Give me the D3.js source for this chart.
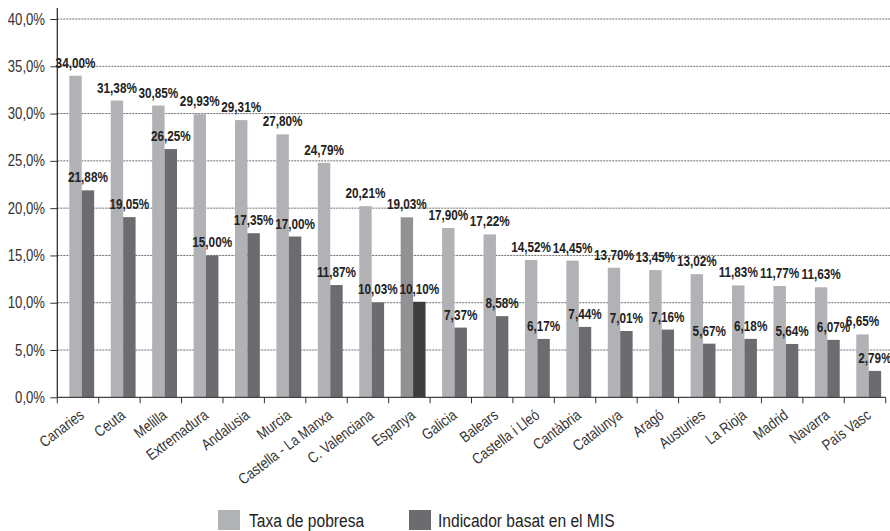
<!DOCTYPE html>
<html><head><meta charset="utf-8">
<script src="https://cdn.jsdelivr.net/npm/d3@7"></script>
<style>
body{margin:0;background:#fff;}
svg text{font-family:"Liberation Sans",Arial,sans-serif;}
</style></head>
<body><svg id="c" width="890" height="531"></svg>
<script>
const categories = ["Canaries","Ceuta","Melilla","Extremadura","Andalusia","Murcia","Castella - La Manxa","C. Valenciana","Espanya","Galicia","Balears","Castella i Lleó","Cantàbria","Catalunya","Aragó","Austuries","La Rioja","Madrid","Navarra","País Vasc"];
const taxaPobresa = [34.00,31.38,30.85,29.93,29.31,27.80,24.79,20.21,19.03,17.90,17.22,14.52,14.45,13.70,13.45,13.02,11.83,11.77,11.63,6.65];
const indicadorMIS = [21.88,19.05,26.25,15.00,17.35,17.00,11.87,10.03,10.10,7.37,8.58,6.17,7.44,7.01,7.16,5.67,6.18,5.64,6.07,2.79];
const yTicks = [0,5,10,15,20,25,30,35,40];
const seriesNames = ["Taxa de pobresa","Indicador basat en el MIS"];
const highlight = "Espanya";

const SX = 0.82; // condensed look
const svg = d3.select("#c");
const x0 = 57.3, x1 = 885.7, yBase = 397.3, yTop = 19;
const x = d3.scaleBand().domain(categories).range([x0, x1]).padding(0);
const y = d3.scaleLinear().domain([0, 40]).range([yBase, yTop]);
const bw = x.bandwidth();
const barW = bw * 0.30, barOff = bw * 0.29;
const fmt = v => v.toFixed(2).replace(".", ",") + "%";
const fmtY = v => v.toFixed(1).replace(".", ",") + "%";

function ctext(parent, px, py, str, opts) {
  const t = parent.append("text")
    .attr("transform", `translate(${px},${py})${opts.rot ? ` rotate(${opts.rot})` : ""} scale(${opts.sx || SX},1)`)
    .attr("text-anchor", opts.anchor || "start")
    .attr("font-size", opts.size)
    .attr("fill", opts.fill || "#222")
    .text(str);
  if (opts.bold) t.attr("font-weight", "bold");
  if (opts.dy) t.attr("dy", opts.dy);
  return t;
}

// gridlines
svg.append("g").selectAll("line").data(yTicks.filter(d => d > 0)).join("line")
  .attr("x1", x0).attr("x2", 890).attr("y1", d => y(d)).attr("y2", d => y(d))
  .attr("stroke", "#6a6a6a").attr("stroke-width", 1).attr("stroke-dasharray", "2,1");

// y axis ticks (via d3 axis for tick lines), labels drawn condensed
const yAxis = d3.axisLeft(y).tickValues(yTicks).tickFormat("").tickSize(7);
const gy = svg.append("g").attr("transform", `translate(${x0},0)`).call(yAxis);
gy.select(".domain").remove();
gy.selectAll(".tick line").attr("stroke", "#333");
const gyl = svg.append("g");
yTicks.forEach(v => ctext(gyl, 45, y(v), fmtY(v), {anchor: "end", size: 16, fill: "#333", dy: "0.35em"}));
svg.append("line").attr("x1", x0).attr("x2", x0).attr("y1", 8).attr("y2", yBase)
  .attr("stroke", "#222").attr("stroke-width", 1.2);

// bars
const colors = {light: "#b1b2b6", dark: "#6b6b70", lightH: "#929295", darkH: "#3d3d3d"};
const g = svg.append("g");
categories.forEach((c, i) => {
  const bx = x(c) + barOff;
  const isH = c === highlight;
  g.append("rect").attr("x", bx).attr("width", barW)
    .attr("y", y(taxaPobresa[i])).attr("height", yBase - y(taxaPobresa[i]))
    .attr("fill", isH ? colors.lightH : colors.light);
  g.append("rect").attr("x", bx + barW).attr("width", barW)
    .attr("y", y(indicadorMIS[i])).attr("height", yBase - y(indicadorMIS[i]))
    .attr("fill", isH ? colors.darkH : colors.dark);
});
const gl = svg.append("g");
categories.forEach((c, i) => {
  const bx = x(c) + barOff;
  ctext(gl, bx + barW / 2, y(taxaPobresa[i]) - 8, fmt(taxaPobresa[i]), {anchor: "middle", size: 14, sx: 0.84, bold: true});
  ctext(gl, bx + barW * 1.5, y(indicadorMIS[i]) - 8, fmt(indicadorMIS[i]), {anchor: "middle", size: 14, sx: 0.84, bold: true});
});

// x axis
svg.append("line").attr("x1", x0).attr("x2", x1).attr("y1", yBase).attr("y2", yBase)
  .attr("stroke", "#444").attr("stroke-width", 1.2);
svg.append("g").selectAll("line").data(d3.range(categories.length + 1)).join("line")
  .attr("x1", i => x0 + i * bw).attr("x2", i => x0 + i * bw)
  .attr("y1", yBase).attr("y2", yBase + 6).attr("stroke", "#333");
const gx = svg.append("g");
categories.forEach(c => ctext(gx, x(c) + bw / 2 + 7, yBase + 20, c, {anchor: "end", size: 15.5, fill: "#333", rot: -37}));

// legend
const leg = [{n: seriesNames[0], c: colors.light, bx: 218, tx: 249}, {n: seriesNames[1], c: colors.dark, bx: 409, tx: 438}];
leg.forEach(l => {
  svg.append("rect").attr("x", l.bx).attr("y", 510).attr("width", 22).attr("height", 20).attr("fill", l.c);
  ctext(svg, l.tx, 527, l.n, {size: 19, fill: "#222"});
});
</script></body></html>
